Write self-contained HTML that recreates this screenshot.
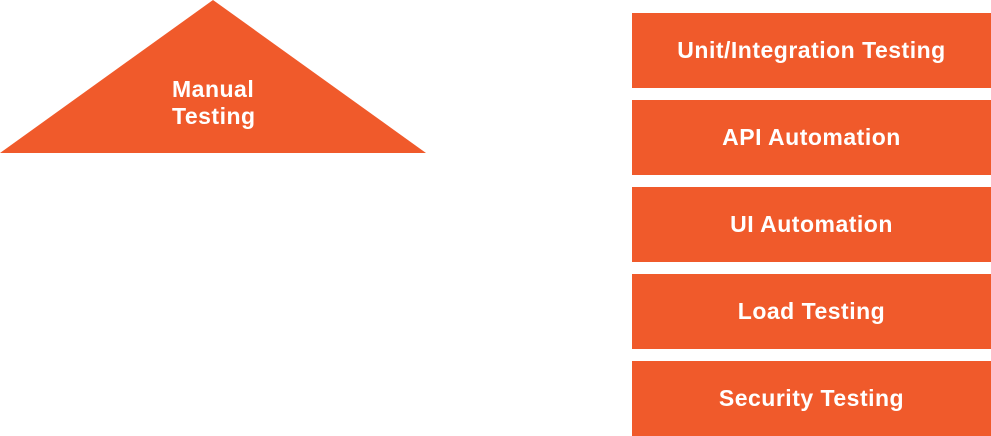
<!DOCTYPE html>
<html><head><meta charset="utf-8"><style>
html,body{margin:0;padding:0;background:#fff;}
body{width:991px;height:436px;position:relative;overflow:hidden;font-family:"Liberation Sans",sans-serif;}
.box{position:absolute;left:632px;width:359px;height:75px;background:#F05A2B;color:#fff;font-size:23px;font-weight:bold;letter-spacing:0.5px;display:flex;align-items:center;justify-content:center;}
svg{position:absolute;left:0;top:0;}
</style></head><body>
<svg width="991" height="436">
<polygon points="213,0 426,153 0,153" fill="#F05A2B"/>
<text x="172" y="97" fill="#fff" font-size="23" font-weight="bold" letter-spacing="0.5" font-family="Liberation Sans, sans-serif">Manual</text>
<text x="172" y="124" fill="#fff" font-size="23" font-weight="bold" letter-spacing="0.5" font-family="Liberation Sans, sans-serif">Testing</text>
</svg>
<div class="box" style="top:13px">Unit/Integration Testing</div>
<div class="box" style="top:100px">API Automation</div>
<div class="box" style="top:187px">UI Automation</div>
<div class="box" style="top:274px">Load Testing</div>
<div class="box" style="top:361px">Security Testing</div>
</body></html>
